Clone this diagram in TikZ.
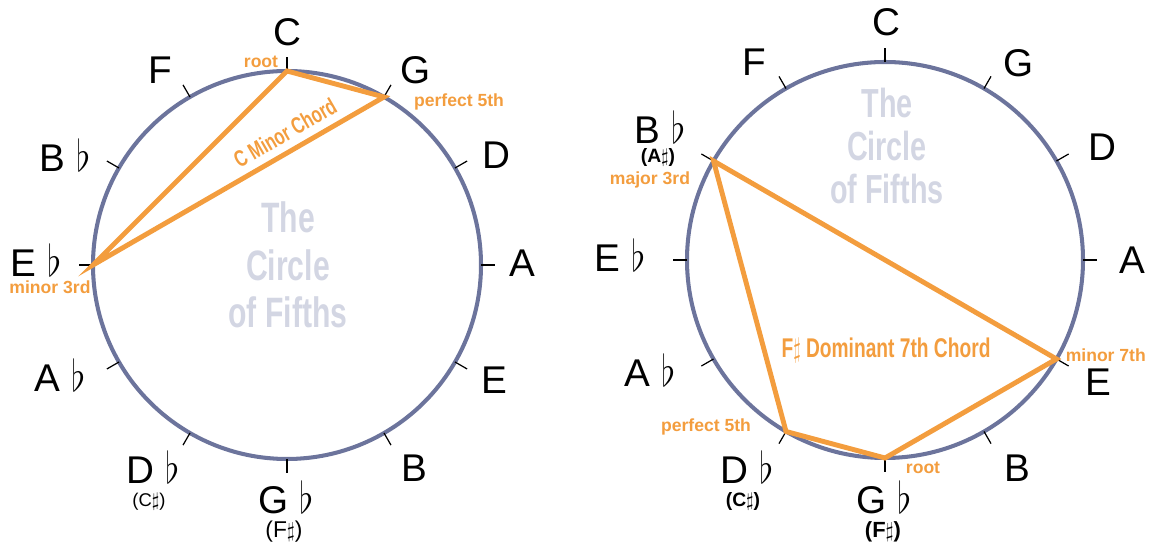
\documentclass[tikz,border=0pt]{standalone}
\usepackage{fontspec}
\setmainfont{Liberation Sans}
\usepackage{graphicx}
\usepackage{tikz}

\definecolor{rimblue}{RGB}{108,116,156}
\definecolor{chordorange}{RGB}{243,157,62}
\definecolor{titlegray}{RGB}{211,214,227}
\newcommand{\narrow}[1]{\scalebox{0.78}[1.1]{#1}}
\newcommand{\flt}{\ \scalebox{1}[1.2]{$\flat$}}

\begin{document}
\begin{tikzpicture}[x=0.02cm, y=0.02cm,
    note/.style={font=\fontsize{22}{24}\selectfont},
    enh/.style={font=\fontsize{10.5}{12}\selectfont},
    enhbold/.style={font=\fontsize{11}{12}\selectfont\bfseries},
    deg/.style={text=chordorange, font=\fontsize{10}{12}\selectfont\bfseries},
    ttl/.style={text=titlegray, align=center, font=\fontsize{22}{27}\selectfont\bfseries},
    chordname/.style={text=chordorange, font=\fontsize{12}{15}\selectfont\bfseries},
    circ/.style={draw=rimblue, line width=2.3pt},
    tickmark/.style={line width=0.7pt},
    chordline/.style={draw=chordorange, line width=2.8pt}]
    \useasboundingbox (0,0) rectangle (1153,544);

    % left circle: C minor
    \begin{scope}[shift={(287,279)}]
        \draw[circ] (0,0) circle (194);
        \foreach \a in {0,30,...,330}
            \draw[tickmark] (\a:194) -- (\a:208);
        \coordinate (lC) at (90:194);
        \coordinate (lG) at (60:194);
        \coordinate (lEb) at (180:194);
    \end{scope}
    \node[ttl] (ttlL) at (288,279) {\narrow{The}\\\narrow{Circle}\\\narrow{of Fifths}};
    \draw[chordline] (lC) -- (lG) -- (lEb) -- cycle;
    \node[chordname, rotate=30, inner sep=0pt] (cmin) at (285,411) {\narrow{C Minor Chord}};

    \node[note] (lnC) at (287,512) {C};
    \node[note] (lnG) at (416,474) {G};
    \node[note] (lnD) at (496,389) {D};
    \node[note] (lnA) at (522,281) {A};
    \node[note] (lnE) at (494,164) {E};
    \node[note] (lnB) at (414,76) {B};
    \node[note] (lnGb) at (286,47) {G\flt};
    \node[note] (lnDb) at (153,77) {D\flt};
    \node[note] (lnAb) at (60,169) {A\flt};
    \node[note] (lnEb) at (36,284) {E\flt};
    \node[note] (lnBb) at (65,389) {B\flt};
    \node[note] (lnF) at (160,474) {F};
    \node[enh] (lnCs) at (149,42) {(C$\sharp$)};
    \node[enh, font=\fontsize{13}{14}\selectfont] (lnFs) at (284,12) {(F$\sharp$)};

    \node[deg] (lroot) at (261,482) {root};
    \node[deg] (lfifth) at (459,442) {perfect 5th};
    \node[deg] (lthird) at (50,257) {minor 3rd};

    % right circle: F# dominant 7th
    \begin{scope}[shift={(885,284)}]
        \draw[circ] (0,0) circle (198);
        \foreach \a in {0,30,...,330}
            \draw[tickmark] (\a:198) -- (\a:212);
        \coordinate (rBb) at (150:198);
        \coordinate (rE) at (-30:198);
        \coordinate (rGb) at (-90:198);
        \coordinate (rDb) at (-120:198);
    \end{scope}
    \node[ttl, font=\fontsize{21}{24.5}\selectfont\bfseries] (ttlR) at (887,398) {\narrow{The}\\\narrow{Circle}\\\narrow{of Fifths}};
    \draw[chordline] (rBb) -- (rE) -- (rGb) -- (rDb) -- cycle;
    \node[chordname, font=\fontsize{14}{16}\selectfont\bfseries] (fsdom) at (886,194) {\narrow{F$\sharp$\ Dominant 7th Chord}};

    \node[note] (rnC) at (886,522) {C};
    \node[note] (rnG) at (1019,481) {G};
    \node[note] (rnD) at (1102,397) {D};
    \node[note] (rnA) at (1132,284) {A};
    \node[note] (rnE) at (1098,162) {E};
    \node[note] (rnB) at (1017,76) {B};
    \node[note] (rnGb) at (884,47) {G\flt};
    \node[note] (rnDb) at (747,77) {D\flt};
    \node[note] (rnAb) at (650,174) {A\flt};
    \node[note] (rnEb) at (620,289) {E\flt};
    \node[note] (rnBb) at (660,417) {B\flt};
    \node[note] (rnF) at (754,482) {F};
    \node[enhbold] (rnAs) at (658,386) {(A$\sharp$)};
    \node[enhbold] (rnCs) at (743,42) {(C$\sharp$)};
    \node[enhbold, font=\fontsize{12.5}{14}\selectfont\bfseries] (rnFs) at (883,12) {(F$\sharp$)};

    \node[deg] (rthird) at (650,364) {major 3rd};
    \node[deg] (rfifth) at (706,117) {perfect 5th};
    \node[deg] (rroot) at (923,76) {root};
    \node[deg, anchor=east] (rseventh) at (1152,189) {minor 7th};
\end{tikzpicture}
\end{document}
